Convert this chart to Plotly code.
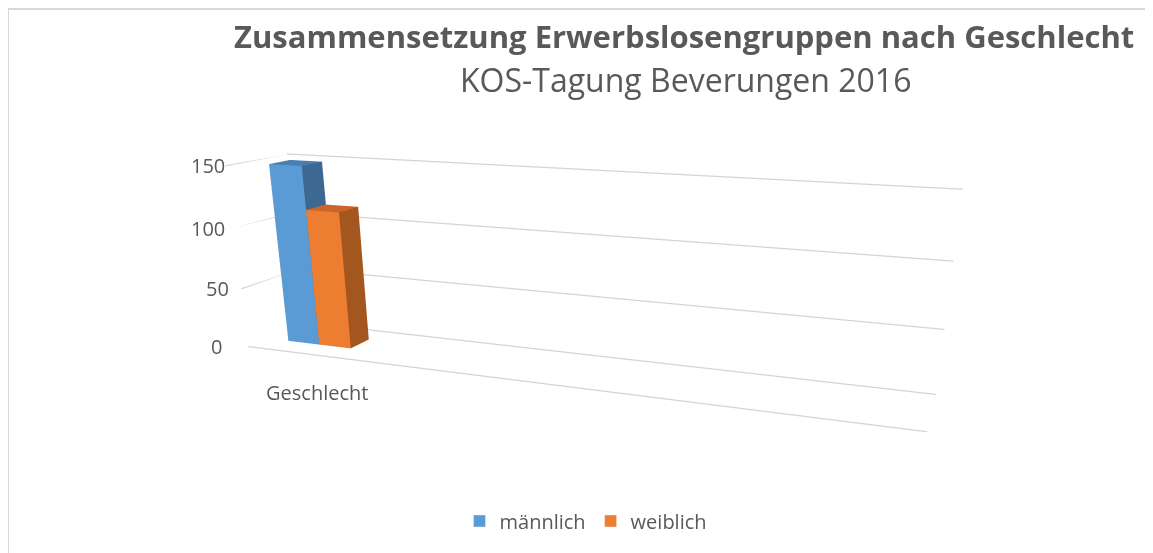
import plotly.graph_objects as go

# ---------------- data ----------------
categories = ["Geschlecht"]
series_names = ["männlich", "weiblich"]
series_values = [149, 114]
value_ticks = [0, 50, 100, 150]
tick_labels = ["0", "50", "100", "150"]
title_main = "Zusammensetzung Erwerbslosengruppen nach Geschlecht"
title_sub = "KOS-Tagung Beverungen 2016"

# ---------------- styles ----------------
series_colors = ["#5B9BD5", "#ED7D31"]
top_colors = ["#4A7EB0", "#C9672A"]
side_colors = ["#3C6892", "#A3561E"]
TXT = "#595959"
GRID = "#D4D4D4"
FONT = "Open Sans"

# ---------------- layout constants ----------------
FW, FH = 1153, 880          # figure (the visible window shows the top 553 px)
OFF = 8                     # page body margin
X_MIN, X_MAX = -0.3955, 3.7545   # category axis extent (one labelled slot at 0)
Z_MAX = 150
BAR_W = 0.2344
DEPTH = (0.328, 0.678)
TICK_XSHIFT = {150: 1, 100: -7, 50: -10, 0: -24}
CAMERA = dict(eye=dict(x=1.0828, y=-2.7022, z=0.6763),
              center=dict(x=0.1061, y=-0.1531, z=-0.4417),
              up=dict(x=0, y=0, z=1), projection=dict(type="perspective"))
ASPECT = dict(x=2.0, y=0.2936, z=0.5405)

fig = go.Figure()

# 3D bars (one box per series)
I = [0, 0, 3, 3, 0, 0, 1, 1, 4, 4, 0, 0]
J = [1, 5, 2, 6, 3, 7, 2, 6, 5, 6, 1, 2]
K = [5, 4, 6, 7, 7, 4, 6, 5, 6, 7, 2, 3]
for i, (name, v) in enumerate(zip(series_names, series_values)):
    x0 = -BAR_W + i * BAR_W
    x1 = x0 + BAR_W
    y0, y1 = DEPTH
    xs = [x0, x1, x1, x0, x0, x1, x1, x0]
    ys = [y0, y0, y1, y1, y0, y0, y1, y1]
    zs = [0, 0, 0, 0, v, v, v, v]
    fc = [series_colors[i]] * 2 + [side_colors[i]] * 6 + [top_colors[i]] * 4
    fig.add_trace(go.Mesh3d(x=xs, y=ys, z=zs, i=I, j=J, k=K, facecolor=fc, flatshading=True,
                            lighting=dict(ambient=1, diffuse=0, specular=0, roughness=1, fresnel=0),
                            hoverinfo="skip", showlegend=False, name=name))

# gridlines on side wall and back wall, plus the floor front edge
gx, gy, gz = [], [], []
for v in value_ticks:
    gx += [X_MIN, X_MIN, X_MAX, None]
    gy += [0, 1, 1, None]
    gz += [v, v, v, None]
gx += [X_MIN, X_MAX, None]; gy += [0, 0, None]; gz += [0, 0, None]
fig.add_trace(go.Scatter3d(x=gx, y=gy, z=gz, mode="lines", line=dict(color=GRID, width=2.5),
                           hoverinfo="skip", showlegend=False))

# legend entries
for name, col in zip(series_names, series_colors):
    fig.add_trace(go.Bar(x=[None], y=[None], name=name, marker_color=col))

scene_ann = [dict(x=X_MIN, y=0, z=v, text=lab, showarrow=False, xanchor="right", yanchor="middle",
                  xshift=TICK_XSHIFT[v], font=dict(family=FONT, size=20, color=TXT))
             for v, lab in zip(value_ticks, tick_labels)]
scene_ann.append(dict(x=0, y=0, z=0, text=categories[0], showarrow=False, xanchor="center",
                      yanchor="top", xshift=16, yshift=-24,
                      font=dict(family=FONT, size=20, color=TXT)))

ax_hidden = dict(visible=False, showspikes=False)
fig.update_layout(
    width=FW, height=FH, margin=dict(l=0, r=0, t=0, b=0),
    paper_bgcolor="white", plot_bgcolor="rgba(0,0,0,0)", hovermode=False,
    xaxis=dict(visible=False), yaxis=dict(visible=False),
    scene=dict(
        domain=dict(x=[0, 1], y=[0, 1]),
        xaxis=dict(ax_hidden, range=[X_MIN, X_MAX]),
        yaxis=dict(ax_hidden, range=[0, 1]),
        zaxis=dict(ax_hidden, range=[0, Z_MAX]),
        aspectmode="manual", aspectratio=ASPECT, camera=CAMERA,
        bgcolor="rgba(0,0,0,0)", annotations=scene_ann,
    ),
    legend=dict(orientation="h", x=578 / FW, xanchor="center", y=1 - (521 - OFF) / FH,
                yanchor="middle", font=dict(family=FONT, size=20, color=TXT),
                bgcolor="rgba(0,0,0,0)"),
    annotations=[
        dict(text="<b>" + title_main + "</b>", xref="paper", yref="paper", x=(684 - OFF) / FW,
             y=1 - (36 - OFF) / FH, xanchor="center", yanchor="middle", showarrow=False,
             font=dict(family=FONT, size=31, color=TXT)),
        dict(text=title_sub, xref="paper", yref="paper", x=(685 - OFF) / FW, y=1 - (80 - OFF) / FH,
             xanchor="center", yanchor="middle", showarrow=False,
             font=dict(family=FONT, size=32, color=TXT)),
    ],
    shapes=[dict(type="rect", xref="paper", yref="paper", x0=0, x1=(FW + 20) / FW,
                 y0=1 - 573 / FH, y1=1 - 1 / FH, line=dict(color="#D9D9D9", width=2))],
)
fig.write_html("out.html")
